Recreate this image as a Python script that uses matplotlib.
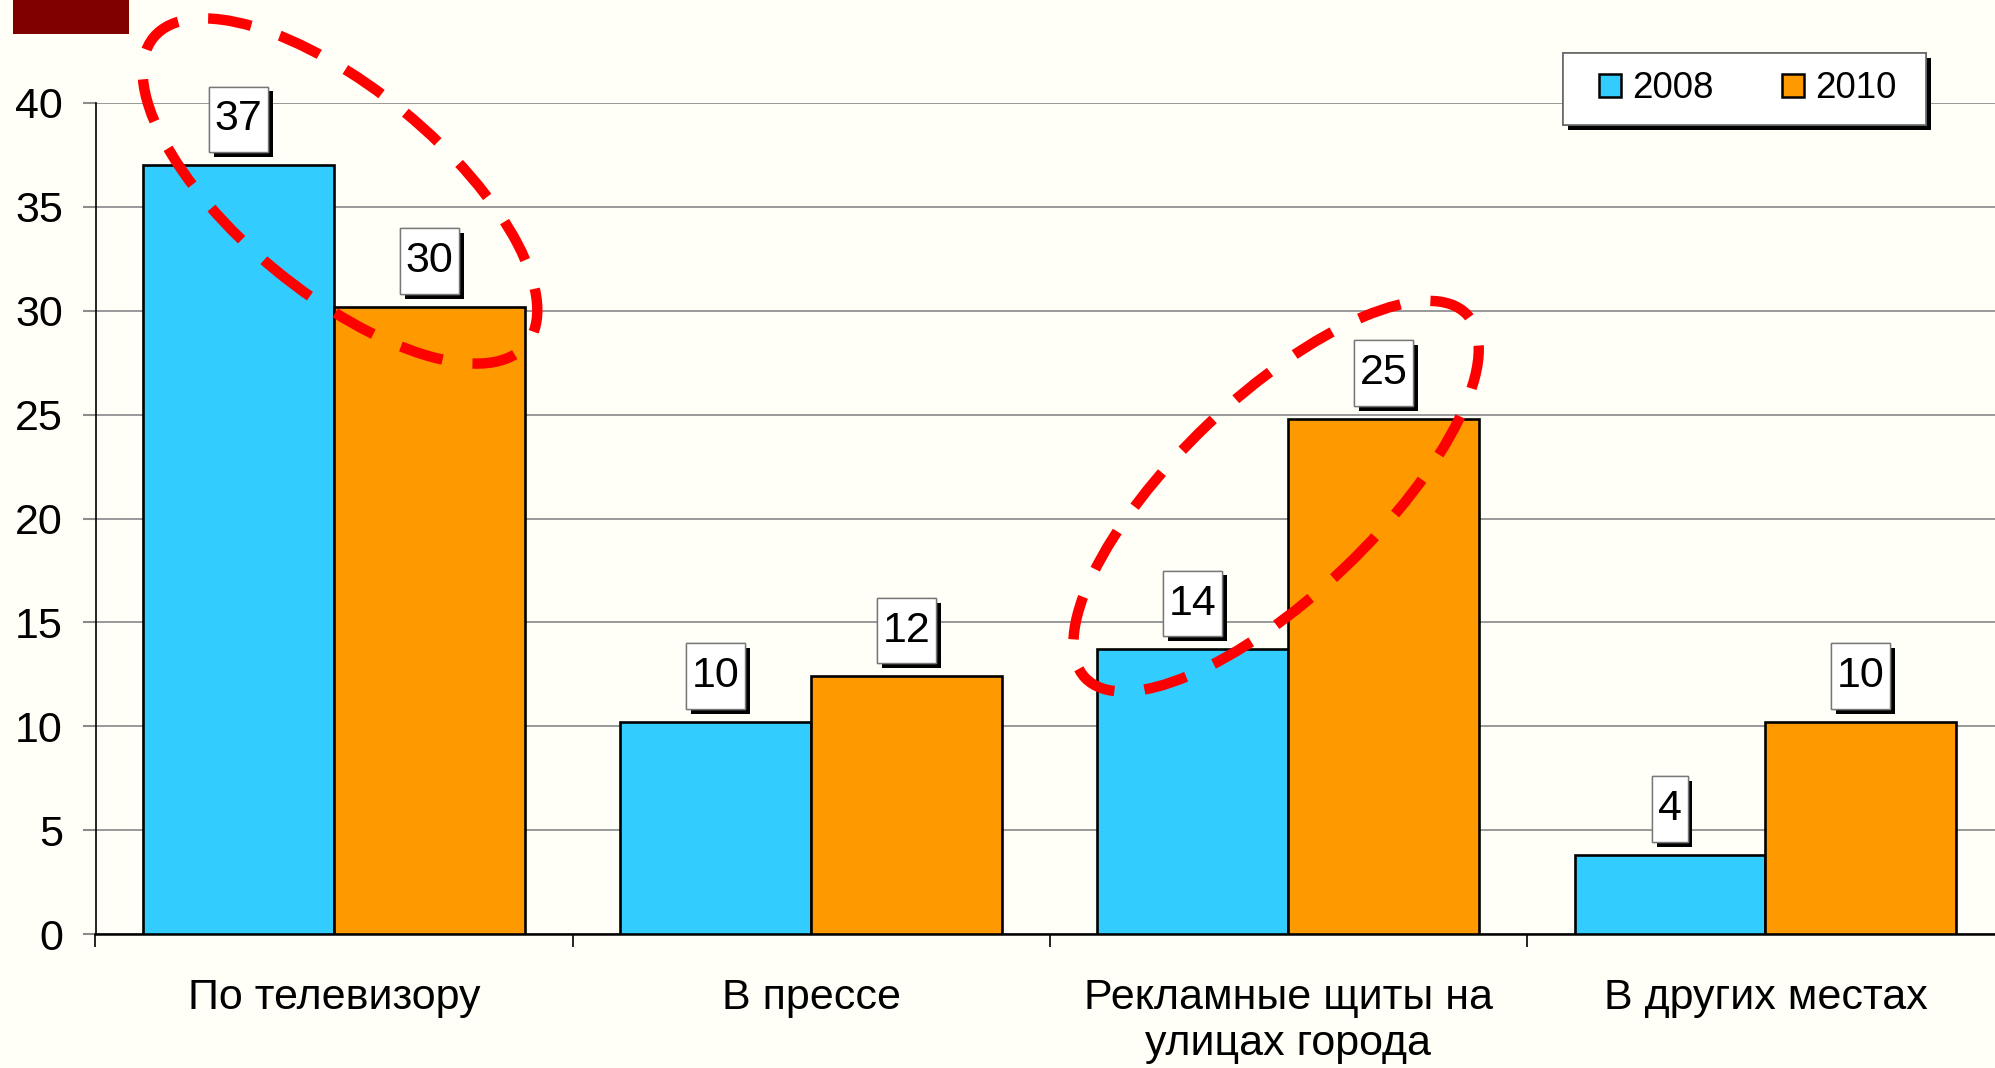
import matplotlib
matplotlib.use("Agg")
import matplotlib.pyplot as plt
import matplotlib.patches as mpatches
import matplotlib.patheffects as pe
from matplotlib.path import Path
import numpy as np

plt.rcParams['font.family'] = ['Liberation Sans', 'DejaVu Sans']

categories = ["По телевизору", "В прессе", "Рекламные щиты на\nулицах города", "В других местах"]
series_names = ["2008", "2010"]
values_2008 = [37.0, 10.2, 13.7, 3.8]
values_2010 = [30.2, 12.4, 24.8, 10.2]
labels_2008 = ["37", "10", "14", "4"]
labels_2010 = ["30", "12", "25", "10"]
y_ticks = [0, 5, 10, 15, 20, 25, 30, 35, 40]

BG = "#FFFFF7"
C08 = "#33CCFF"
C10 = "#FF9900"
FS = 31
W, H = 1995, 1068

fig = plt.figure(figsize=(W / 100, H / 100), dpi=100, facecolor=BG)
ax = fig.add_axes([95.5 / W, 1 - 934 / H, (2004 - 95.5) / W, (934 - 103) / H])
ax.set_facecolor(BG)

x = np.arange(len(categories))
w = 0.4
ax.bar(x - w/2, values_2008, w, color=C08, edgecolor="black", linewidth=1.9, label=series_names[0], zorder=3)
ax.bar(x + w/2, values_2010, w, color=C10, edgecolor="black", linewidth=1.9, label=series_names[1], zorder=3)

ax.set_xlim(-0.5, len(categories) - 0.5)
ax.set_ylim(0, 40)
ax.set_yticks(y_ticks)
ax.set_yticklabels([str(t) for t in y_ticks], fontsize=FS)
ax.tick_params(axis='y', length=9.5, width=1.5, color="#8c8c8c", pad=14)

ax.set_xticks(x)
ax.set_xticklabels(categories, fontsize=FS, linespacing=1.17, va='top')
ax.tick_params(axis='x', which='major', length=0, pad=32)
ax.set_xticks(np.arange(-0.5, len(categories) + 0.5, 1), minor=True)
ax.tick_params(axis='x', which='minor', length=9, width=1.2, color="black", direction='out')

ax.yaxis.grid(True, color="#999999", linewidth=1.4, zorder=0)
ax.set_axisbelow(True)
for s in ['top', 'right']:
    ax.spines[s].set_visible(False)
ax.spines['left'].set_linewidth(1.2)
ax.spines['bottom'].set_linewidth(1.8)

shadow = [pe.withSimplePatchShadow(offset=(3.5, -3.5), shadow_rgbFace='black', alpha=1.0), pe.Normal()]


def label_box(x0, y0, width, height, mutation_size):
    px = 0.13 * mutation_size
    py = 0.30 * mutation_size
    xa, xb = x0 - px, x0 + width + px
    ya, yb = y0 - py, y0 + height + py
    return Path([(xa, ya), (xb, ya), (xb, yb), (xa, yb), (xa, ya)],
                [Path.MOVETO, Path.LINETO, Path.LINETO, Path.LINETO, Path.CLOSEPOLY])


def add_labels(xs, vals, labs):
    for xi, v, lab in zip(xs, vals, labs):
        t = ax.annotate(lab, xy=(xi, v), xytext=(0, 33), textcoords='offset points',
                        ha='center', va='center', fontsize=FS, zorder=5,
                        bbox=dict(boxstyle=label_box, facecolor='white',
                                  edgecolor='#777777', linewidth=1.0))
        t.get_bbox_patch().set_path_effects(shadow)

add_labels(x - w/2, values_2008, labels_2008)
add_labels(x + w/2, values_2010, labels_2010)

# legend frame (white box with drop shadow)
frame = mpatches.Rectangle((1563 / W, 1 - 125 / H), (1926 - 1563) / W, (125 - 53) / H,
                           transform=fig.transFigure, facecolor='white', edgecolor='#666666',
                           linewidth=1.2, zorder=6)
frame.set_path_effects(shadow)
fig.add_artist(frame)

leg = ax.legend(loc='center left', bbox_to_anchor=(1599 / W, 1 - 89 / H),
                bbox_transform=fig.transFigure, ncol=2, fontsize=26.5,
                frameon=False, handlelength=0.6, handleheight=0.6,
                handletextpad=0.3, columnspacing=1.85, borderpad=0, borderaxespad=0)
for h in leg.legend_handles:
    h.set_linewidth(1.8)
leg.set_zorder(7)
fig.add_artist(leg)

# dark red block top-left
fig.add_artist(mpatches.Rectangle((12.7 / W, 1 - 34.4 / H), (128.5 - 12.7) / W, 34.4 / H,
                                  transform=fig.transFigure, facecolor="#800000", edgecolor='none'))

# red dashed ellipses (annotation)
for (cx, cy, ww, hh, ang) in [(3.40, 8.77, 4.83, 2.04, -39.5), (12.761, 5.718, 5.27, 1.98, 43.6)]:
    e = mpatches.Ellipse((cx, cy), ww, hh, angle=ang, transform=fig.dpi_scale_trans,
                         fill=False, edgecolor="#FF0000", linewidth=7.5,
                         linestyle=(0, (4.2, 2.9)), zorder=10)
    e.set_capstyle('butt')
    fig.add_artist(e)

fig.savefig("out.png", dpi=100, facecolor=BG)
